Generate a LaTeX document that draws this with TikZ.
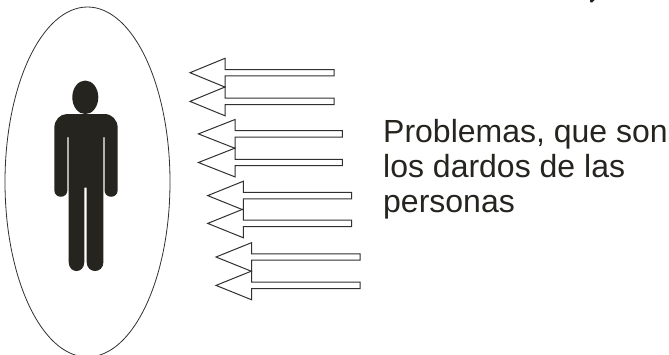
\documentclass[tikz,border=0pt]{standalone}
\usepackage{fontspec}
\setmainfont{Liberation Sans}
\definecolor{figure}{HTML}{26241F}
\definecolor{outline}{HTML}{303030}
\tikzset{
  halo/.style={draw=outline,line width=0.8pt,fill=white},
  dart/.style={draw=outline,line width=1pt,fill=white,line join=miter},
  label/.style={anchor=base west,inner sep=0pt,text=figure,font=\fontsize{32}{36}\selectfont},
}
\begin{document}
\begin{tikzpicture}[x=1pt,y=-1pt]
\useasboundingbox (0,0) rectangle (669,354);
\begin{scope}
\clip (0,0) rectangle (669,354);
\draw[halo] (87.5,182) ellipse [x radius=82.5,y radius=175];
\fill[figure] (85.3,97.3) ellipse [x radius=13,y radius=16.8];
\fill[figure]
  (67,114) -- (104.5,114)
  .. controls (112,114) and (117.7,120) .. (117.7,128)
  -- (117.7,190) .. controls (117.7,199) and (104.5,199) .. (104.5,190)
  -- (104.5,137) -- (103.4,137)
  -- (103.4,262) .. controls (103.4,274) and (86.7,274) .. (86.7,262)
  -- (86.7,187.7) -- (84.3,187.7)
  -- (84.3,262) .. controls (84.3,274) and (68.7,274) .. (68.7,262)
  -- (68.7,137) -- (67.4,137)
  -- (67.4,190) .. controls (67.4,199) and (54.3,199) .. (54.3,190)
  -- (54.3,128) .. controls (54.3,120) and (60,114) .. (67,114) -- cycle;
\foreach \dx/\y/\neck in {0/72.7/225,0/101.4/225,8.4/133.9/235,8.4/162.5/235,17.7/195.6/243.4,17.7/223.4/243.4,26/257/251.7,26/285.4/251.7}{
  \draw[dart] ({190+\dx},\y) -- (\neck,{\y-14.4}) -- (\neck,{\y-3.2}) -- ({334+\dx},{\y-3.2})
    -- ({334+\dx},{\y+3.2}) -- (\neck,{\y+3.2}) -- (\neck,{\y+14.4}) -- cycle;
}
\fill[figure] (590,0) -- (594.5,0) -- (592,2.5) -- (590,2) -- cycle;
\end{scope}
\node[label] (l1) at (383,142) {Problemas, que son};
\node[label] (l2) at (383,177) {los dardos de las};
\node[label] (l3) at (383,212) {personas};
\end{tikzpicture}
\end{document}
